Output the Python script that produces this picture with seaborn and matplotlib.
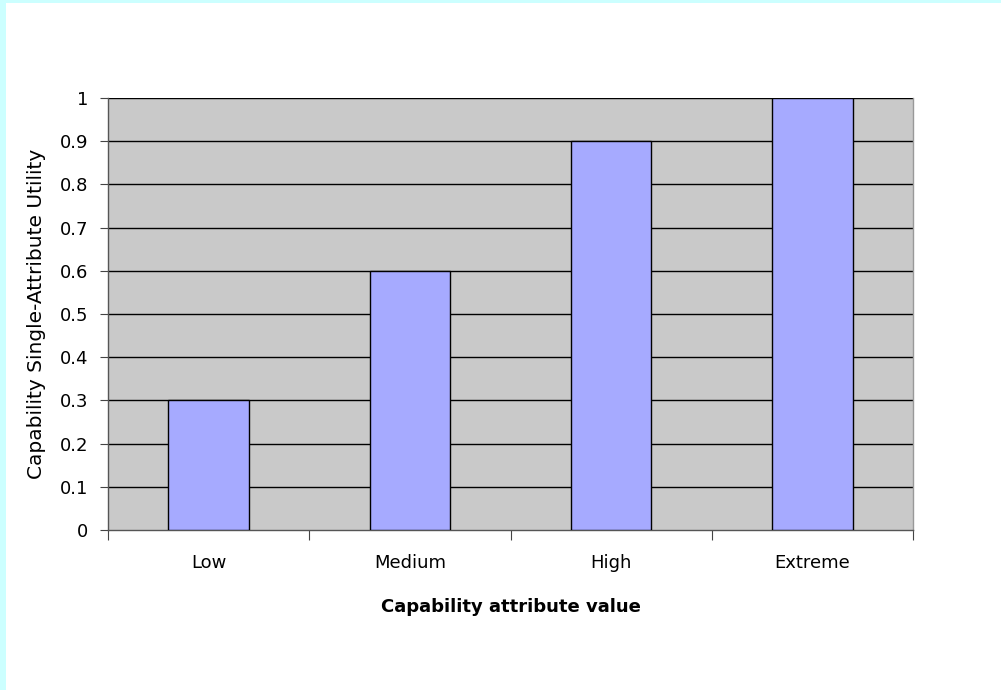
import matplotlib
matplotlib.use('Agg')
import matplotlib.pyplot as plt
import seaborn as sns
import pandas as pd
import numpy as np
from matplotlib.patches import Rectangle

sns.set_style('white', {'xtick.bottom': True, 'ytick.left': True})
plt.rcParams['font.family'] = ['DejaVu Sans']
plt.rcParams['text.color'] = 'black'
plt.rcParams['axes.labelcolor'] = 'black'
plt.rcParams['xtick.color'] = '#444444'
plt.rcParams['ytick.color'] = '#444444'
plt.rcParams['xtick.labelcolor'] = 'black'
plt.rcParams['ytick.labelcolor'] = 'black'

# Data
categories = ['Low', 'Medium', 'High', 'Extreme']
utility = [0.3, 0.6, 0.9, 1.0]
y_ticks = [0, 0.1, 0.2, 0.3, 0.4, 0.5, 0.6, 0.7, 0.8, 0.9, 1]
y_tick_labels = ['0', '0.1', '0.2', '0.3', '0.4', '0.5', '0.6', '0.7', '0.8', '0.9', '1']

df = pd.DataFrame({'Value': categories, 'Utility': utility})

fig = plt.figure(figsize=(10.01, 6.9), dpi=100)
fig.patch.set_facecolor('white')

# light cyan border strips (top and left)
fig.patches.append(Rectangle((0, 1 - 3 / 690), 1, 3 / 690, transform=fig.transFigure,
                             facecolor='#CCFFFF', edgecolor='none', zorder=0))
fig.patches.append(Rectangle((0, 0), 6 / 1001, 1, transform=fig.transFigure,
                             facecolor='#CCFFFF', edgecolor='none', zorder=0))

ax = fig.add_axes([108 / 1001, (690 - 530) / 690, 805 / 1001, 432 / 690])
ax.set_facecolor('#C9C9C9')

sns.barplot(data=df, x='Value', y='Utility', ax=ax, color='#A6AAFF', width=0.4,
            edgecolor='black', linewidth=1, saturation=1, zorder=3)

ax.set_xlim(-0.5, 3.5)
ax.set_ylim(0, 1)
ax.set_yticks(y_ticks)
ax.set_yticklabels(y_tick_labels, fontsize=13)
for y in y_ticks[1:]:
    ax.axhline(y, color='black', linewidth=1, zorder=2)

# category ticks at boundaries
ax.set_xticks(np.arange(len(categories)))
ax.set_xticklabels(categories, fontsize=13)
ax.set_xticks(np.arange(len(categories) + 1) - 0.5, minor=True)
ax.tick_params(axis='x', which='major', length=0, pad=17)
ax.tick_params(axis='x', which='minor', length=7, width=0.8, direction='out', bottom=True)
ax.tick_params(axis='y', which='major', length=6, width=0.8,
               direction='out', pad=8, left=True)

for side in ['left', 'bottom']:
    ax.spines[side].set_color('#555555')
    ax.spines[side].set_linewidth(1)
ax.spines['right'].set_color('#999999')
ax.spines['right'].set_linewidth(1)
ax.spines['top'].set_visible(False)

ax.set_xlabel('Capability attribute value', fontsize=13, fontweight='bold', labelpad=19)
ax.set_ylabel('Capability Single-Attribute Utility', fontsize=14.5, labelpad=10)

plt.savefig('out.png', dpi=100, facecolor=fig.get_facecolor())
